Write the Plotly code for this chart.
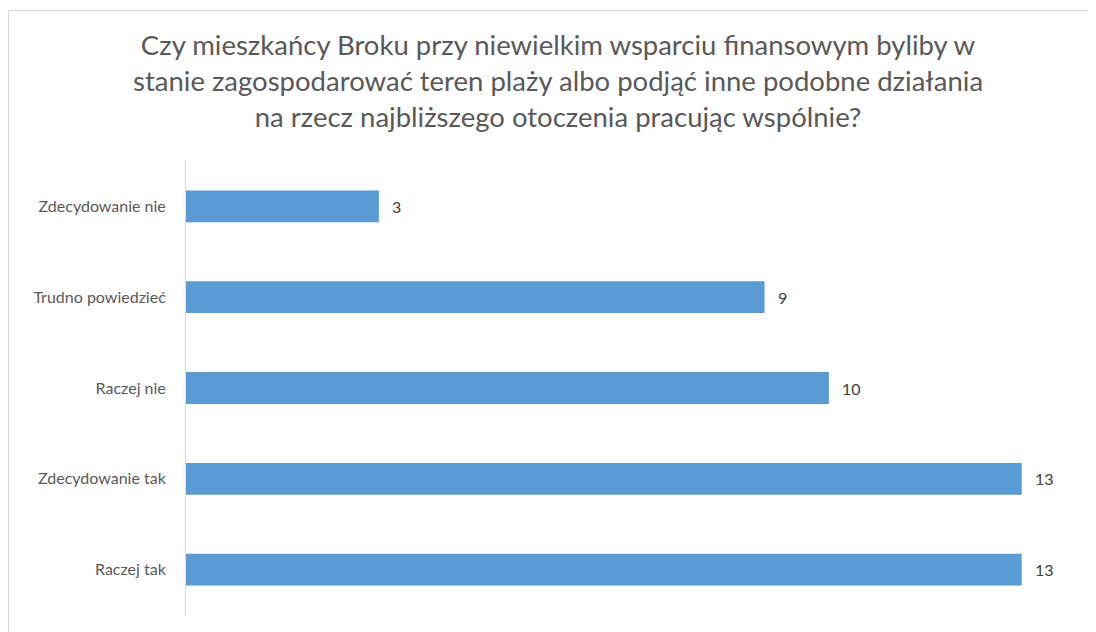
import plotly.graph_objects as go

categories = ["Zdecydowanie nie", "Trudno powiedzieć", "Raczej nie", "Zdecydowanie tak", "Raczej tak"]
values = [3, 9, 10, 13, 13]
title_text = ("Czy mieszkańcy Broku przy niewielkim wsparciu finansowym byliby w<br>"
              "stanie zagospodarować teren plaży albo podjąć inne podobne działania<br>"
              "na rzecz najbliższego otoczenia pracując wspólnie?")

# page body adds an 8px offset
W, H = 1088, 624
L, R, T, B = 178, 10, 153, 17

fig = go.Figure(go.Bar(
    x=values, y=categories, orientation="h",
    marker=dict(color="#5B9BD5", line=dict(width=0)),
    width=0.35, hoverinfo="skip",
))

for c, v in zip(categories, values):
    fig.add_annotation(x=v, y=c, text=str(v), showarrow=False, xanchor="left",
                       xshift=11, font=dict(family="Lato", size=16, color="#404040"))

pw, ph = W - L - R, H - T - B
fig.add_shape(type="rect", xref="paper", yref="paper",
              x0=(0.5 - L) / pw, x1=(W + 20 - L) / pw,
              y0=-(B + 20) / ph, y1=(H - B - 2.5) / ph,
              line=dict(color="#D9D9D9", width=1), fillcolor="rgba(0,0,0,0)", layer="below")

fig.update_layout(
    width=W, height=H,
    margin=dict(l=L, r=R, t=T, b=B),
    paper_bgcolor="white", plot_bgcolor="white",
    showlegend=False,
    font=dict(family="Lato", color="#595959"),
    annotations=list(fig.layout.annotations) + [dict(
        text=title_text, xref="paper", yref="paper", x=(550 - L) / pw, y=(H - B - 17.5) / ph,
        xanchor="center", yanchor="top", showarrow=False, align="center",
        font=dict(family="Lato", size=27.5, color="#595959"))],
    xaxis=dict(range=[0, 14], showgrid=False, zeroline=False, showticklabels=False, showline=False),
    yaxis=dict(autorange="reversed", showline=True, linecolor="#D9D9D9", linewidth=1,
               ticks="outside", ticklen=16, tickcolor="rgba(0,0,0,0)",
               tickfont=dict(family="Lato", size=16, color="#595959"), showgrid=False),
)

fig.write_html("out.html")
